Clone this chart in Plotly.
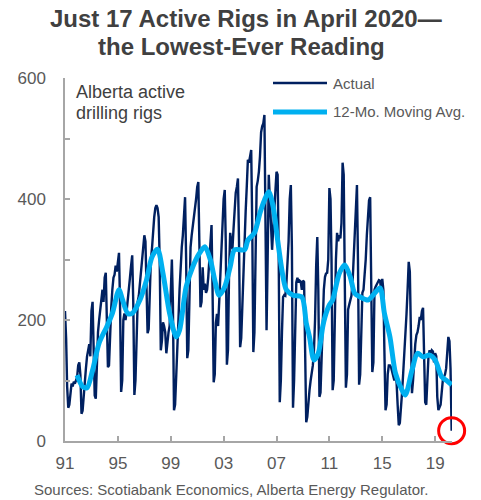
import plotly.graph_objects as go
import pandas as pd

# ---------------- data ----------------
start_month = "1991-01-01"
# Alberta active drilling rigs, monthly Jan 1991 - Apr 2020
actual = [
    215, 170, 90, 55, 60, 85, 95, 90, 98, 95, 100, 105,          # 1991
    125, 130, 110, 45, 50, 80, 100, 120, 140, 150, 160, 140,     # 1992
    215, 230, 170, 75, 70, 150, 180, 200, 220, 240, 250, 230,    # 1993
    270, 278, 210, 122, 125, 180, 220, 250, 270, 275, 290, 280,  # 1994
    300, 311, 230, 81, 100, 200, 211, 200, 215, 230, 250, 270,   # 1995
    290, 307, 230, 76, 100, 180, 230, 240, 260, 280, 300, 320,   # 1996
    340, 330, 260, 178, 185, 250, 300, 319, 350, 370, 385, 390,  # 1997
    385, 370, 300, 150, 165, 196, 190, 180, 145, 170, 180, 190,  # 1998
    270, 300, 230, 51, 60, 100, 150, 200, 250, 290, 320, 340,    # 1999
    380, 403, 300, 137, 150, 260, 320, 340, 354, 370, 390, 400,  # 2000
    420, 428, 330, 221, 230, 287, 250, 260, 245, 250, 270, 300,  # 2001
    330, 357, 250, 97, 110, 195, 210, 190, 230, 280, 330, 360,   # 2002
    400, 415, 330, 126, 150, 280, 344, 330, 317, 350, 390, 410,  # 2003
    420, 434, 330, 155, 170, 230, 278, 330, 380, 420, 465, 460,  # 2004
    470, 481, 360, 147, 180, 300, 420, 430, 445, 470, 510, 520,  # 2005
    525, 539, 400, 183, 300, 440, 400, 350, 316, 350, 387, 400,  # 2006
    445, 440, 320, 64, 100, 180, 238, 241, 240, 260, 300, 330,   # 2007
    400, 423, 320, 55, 100, 200, 262, 270, 262, 265, 263, 250,   # 2008
    265, 263, 150, 31, 40, 70, 84, 100, 115, 125, 150, 200,      # 2009
    290, 337, 250, 73, 80, 150, 221, 250, 271, 277, 278, 300,    # 2010
    418, 400, 300, 84, 100, 230, 300, 344, 330, 340, 335, 360,   # 2011
    460, 440, 300, 88, 110, 217, 225, 233, 240, 260, 300, 340,   # 2012
    400, 423, 300, 93, 110, 200, 245, 250, 270, 300, 340, 370,   # 2013
    398, 403, 280, 114, 130, 250, 255, 258, 262, 266, 265, 250,  # 2014
    268, 250, 150, 51, 60, 110, 125, 125, 122, 115, 110, 100,    # 2015
    110, 96, 60, 26, 30, 50, 80, 112, 140, 170, 210, 250,        # 2016
    296, 280, 200, 79, 100, 143, 160, 175, 180, 190, 205, 200,   # 2017
    215, 220, 150, 64, 60, 113, 140, 150, 145, 150, 148, 130,    # 2018
    145, 140, 73, 51, 56, 60, 80, 100, 106, 110, 120, 140,       # 2019
    172, 165, 120, 17,                                           # 2020
]

# 12-month moving average
ma_dates = [
    "1991-12", "1992-05", "1992-09", "1993-02", "1993-08", "1994-03", "1994-08",
    "1995-02", "1995-05", "1995-10", "1996-02", "1996-09", "1997-03", "1997-08",
    "1998-01", "1998-06", "1998-12", "1999-06", "1999-09", "2000-03", "2000-09",
    "2001-03", "2001-08", "2002-01", "2002-05", "2002-09", "2003-02", "2003-07",
    "2003-11", "2004-08", "2004-11", "2005-05", "2005-10", "2006-02", "2006-06",
    "2006-10", "2007-02", "2007-07", "2007-10", "2008-04", "2008-12", "2009-04",
    "2009-07", "2009-11", "2010-03", "2010-07", "2010-09", "2011-01", "2011-04",
    "2011-10", "2012-03", "2012-08", "2012-12", "2013-05", "2013-12", "2014-06",
    "2014-11", "2015-03", "2015-08", "2016-01", "2016-07", "2016-10", "2017-04",
    "2017-09", "2018-02", "2018-08", "2019-01", "2019-07", "2019-12", "2020-04",
]
ma_values = [
    109, 90, 88, 117, 162, 189, 211,
    250, 235, 211, 211, 233, 266, 304,
    317, 277, 211, 172, 183, 255, 288,
    310, 321, 299, 266, 241, 255, 288,
    316, 316, 332, 344, 377, 398, 412,
    387, 332, 271, 250, 241, 238, 195,
    172, 134, 145, 189, 205, 225, 233,
    277, 291, 271, 244, 238, 233, 244,
    253, 211, 172, 112, 84, 76, 117,
    145, 139, 142, 134, 106, 99, 93,
]

x_tick_years = [1991, 1995, 1999, 2003, 2007, 2011, 2015, 2019]
x_tick_labels = ["91", "95", "99", "03", "07", "11", "15", "19"]
y_tick_vals = [0, 100, 200, 300, 400, 500, 600]
y_tick_labels = ["0", "", "200", "", "400", "", "600"]

# ---------------- figure ----------------
dates = pd.date_range(start_month, periods=len(actual), freq="MS")
ma_x = pd.to_datetime(ma_dates)

NAVY = "#002060"
CYAN = "#00B0F0"
GRAY_TXT = "#595959"
TITLE_CLR = "#404040"
FONT = "Liberation Sans, Arial, sans-serif"

W, H = 481, 500
L, R, T, B = 65, 452, 78, 441  # plot area in px


def xp(px):
    return (px - L) / (R - L)


def yp(py):
    return (B - py) / (B - T)


fig = go.Figure()
fig.add_trace(go.Scatter(x=dates, y=actual, mode="lines",
                         line=dict(color=NAVY, width=2.4),
                         name="Actual", showlegend=False))
fig.add_trace(go.Scatter(x=ma_x, y=ma_values, mode="lines",
                         line=dict(color=CYAN, width=5, shape="spline", smoothing=0.8),
                         name="12-Mo. Moving Avg.", showlegend=False))
# red circle around the latest reading
fig.add_trace(go.Scatter(x=[dates[-1]], y=[actual[-1]], mode="markers",
                         marker=dict(symbol="circle-open", size=26, color="#FF0000",
                                     line=dict(color="#FF0000", width=3)),
                         showlegend=False, cliponaxis=False))

fig.update_layout(
    width=W, height=H,
    margin=dict(l=L, r=W - R, t=T, b=H - B, pad=0),
    paper_bgcolor="white", plot_bgcolor="white",
    font=dict(family=FONT, color=GRAY_TXT, size=17),
)

fig.update_xaxes(
    type="date",
    range=[dates[0], dates[-1] + pd.Timedelta(days=10)],
    tickvals=[pd.Timestamp(f"{y}-01-01") for y in x_tick_years],
    ticktext=x_tick_labels,
    ticks="inside", ticklen=5, tickcolor="#A6A6A6", tickwidth=1.5,
    showline=True, linecolor="#A6A6A6", linewidth=1.5,
    showgrid=False, zeroline=False,
    tickfont=dict(size=17, color=GRAY_TXT),
    ticklabelstandoff=6,
)
fig.update_yaxes(
    range=[0, 600],
    tickvals=y_tick_vals, ticktext=y_tick_labels,
    ticks="inside", ticklen=5, tickcolor="#A6A6A6", tickwidth=1.5,
    showline=True, linecolor="#A6A6A6", linewidth=1.5,
    showgrid=False, zeroline=False,
    tickfont=dict(size=17, color=GRAY_TXT),
    ticklabelstandoff=14,
)

# title (two centred lines)
fig.add_annotation(text="<b>Just 17 Active Rigs in April 2020—</b>", xref="paper", yref="paper",
                   x=xp(246), y=yp(18), xanchor="center", yanchor="middle", showarrow=False,
                   font=dict(size=24, color=TITLE_CLR))
fig.add_annotation(text="<b>the Lowest-Ever Reading</b>", xref="paper", yref="paper",
                   x=xp(241.5), y=yp(46), xanchor="center", yanchor="middle", showarrow=False,
                   font=dict(size=24, color=TITLE_CLR))

# custom legend
fig.add_shape(type="line", xref="paper", yref="paper",
              x0=xp(273), x1=xp(327), y0=yp(83), y1=yp(83),
              line=dict(color=NAVY, width=2.4))
fig.add_shape(type="line", xref="paper", yref="paper",
              x0=xp(273), x1=xp(327), y0=yp(112), y1=yp(112),
              line=dict(color=CYAN, width=5))
fig.add_annotation(text="Actual", xref="paper", yref="paper", x=xp(331), y=yp(83),
                   xanchor="left", yanchor="middle", showarrow=False,
                   font=dict(size=15, color=GRAY_TXT))
fig.add_annotation(text="12-Mo. Moving Avg.", xref="paper", yref="paper", x=xp(331), y=yp(112),
                   xanchor="left", yanchor="middle", showarrow=False,
                   font=dict(size=15, color=GRAY_TXT))

# in-plot label
fig.add_annotation(text="Alberta active", xref="paper", yref="paper", x=xp(74), y=yp(92),
                   xanchor="left", yanchor="middle", showarrow=False,
                   font=dict(size=18, color=TITLE_CLR))
fig.add_annotation(text="drilling rigs", xref="paper", yref="paper", x=xp(74), y=yp(113),
                   xanchor="left", yanchor="middle", showarrow=False,
                   font=dict(size=18, color=TITLE_CLR))

# source
fig.add_annotation(text="Sources: Scotiabank Economics, Alberta Energy Regulator.",
                   xref="paper", yref="paper", x=xp(32), y=yp(489),
                   xanchor="left", yanchor="middle", showarrow=False,
                   font=dict(size=15, color=GRAY_TXT))

fig.write_html("out.html")
